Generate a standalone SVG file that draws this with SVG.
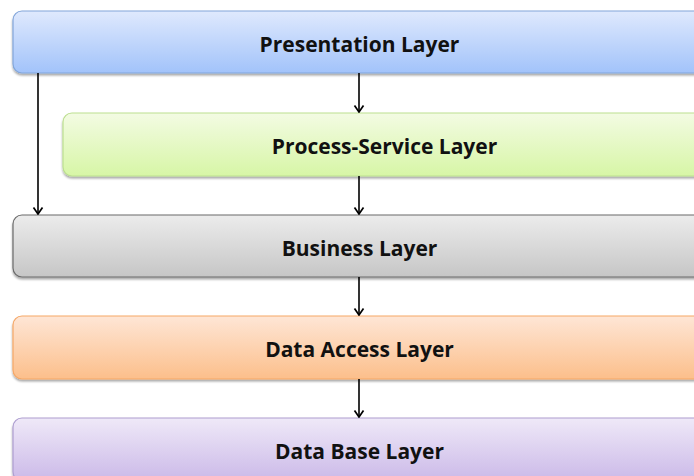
<svg xmlns="http://www.w3.org/2000/svg" width="694" height="476" viewBox="0 0 694 476">
  <defs>
    <linearGradient id="gBlue" x1="0" y1="0" x2="0" y2="1">
      <stop offset="0" stop-color="#dfe9fd"/>
      <stop offset="1" stop-color="#a2c3fa"/>
    </linearGradient>
    <linearGradient id="gGreen" x1="0" y1="0" x2="0" y2="1">
      <stop offset="0" stop-color="#f3fbe3"/>
      <stop offset="1" stop-color="#d7f6a6"/>
    </linearGradient>
    <linearGradient id="gGray" x1="0" y1="0" x2="0" y2="1">
      <stop offset="0" stop-color="#ececec"/>
      <stop offset="1" stop-color="#c6c6c6"/>
    </linearGradient>
    <linearGradient id="gOrange" x1="0" y1="0" x2="0" y2="1">
      <stop offset="0" stop-color="#fee6d6"/>
      <stop offset="1" stop-color="#fcbf8b"/>
    </linearGradient>
    <linearGradient id="gPurple" x1="0" y1="0" x2="0" y2="1">
      <stop offset="0" stop-color="#efe9f8"/>
      <stop offset="1" stop-color="#cbb9e8"/>
    </linearGradient>
    <filter id="shadow" x="-5%" y="-20%" width="110%" height="150%">
      <feGaussianBlur in="SourceAlpha" stdDeviation="1.2"/>
      <feOffset dx="0" dy="2" result="b"/>
      <feComponentTransfer><feFuncA type="linear" slope="0.35"/></feComponentTransfer>
      <feMerge><feMergeNode/><feMergeNode in="SourceGraphic"/></feMerge>
    </filter>
    <!-- open chevron head, drawn along +x so orient="auto" points it down the line -->
    <marker id="arrow" viewBox="0 0 12 12" refX="11" refY="6" markerWidth="12" markerHeight="12" markerUnits="userSpaceOnUse" orient="auto">
      <path d="M4.5,1.5 L11,6 L4.5,10.5" fill="none" stroke="#000" stroke-width="1.7"/>
    </marker>
  </defs>
  <style>
    .box { filter: url(#shadow); stroke-width: 1.2; }
    .label { font-family: "Open Sans", "Liberation Sans", sans-serif; font-weight: bold; font-size: 21px; fill: #111; text-anchor: middle; }
    .conn { stroke: #000; stroke-width: 1.6; fill: none; marker-end: url(#arrow); }
  </style>

  <g id="presentation">
    <rect class="box" x="13" y="11" width="693" height="62" rx="9" fill="url(#gBlue)" stroke="#82a6da"/>
    <text class="label" x="359.5" y="52">Presentation Layer</text>
  </g>

  <g id="process-service">
    <rect class="box" x="63" y="113" width="643" height="63" rx="9" fill="url(#gGreen)" stroke="#bcdf90"/>
    <text class="label" x="384.5" y="154">Process-Service Layer</text>
  </g>

  <g id="business">
    <rect class="box" x="13" y="215" width="693" height="62" rx="9" fill="url(#gGray)" stroke="#6b6b6b"/>
    <text class="label" x="359.5" y="256">Business Layer</text>
  </g>

  <g id="data-access">
    <rect class="box" x="13" y="316" width="693" height="63" rx="9" fill="url(#gOrange)" stroke="#f5a766"/>
    <text class="label" x="359.5" y="357">Data Access Layer</text>
  </g>

  <g id="data-base">
    <rect class="box" x="13" y="418" width="693" height="63" rx="9" fill="url(#gPurple)" stroke="#ad9dd0"/>
    <text class="label" x="359.5" y="459">Data Base Layer</text>
  </g>

  <g id="connectors">
    <line class="conn" x1="359" y1="73" x2="359" y2="112"/>
    <line class="conn" x1="359" y1="176" x2="359" y2="214"/>
    <line class="conn" x1="38" y1="73" x2="38" y2="214"/>
    <line class="conn" x1="359" y1="277" x2="359" y2="315"/>
    <line class="conn" x1="359" y1="379" x2="359" y2="417"/>
  </g>
</svg>
